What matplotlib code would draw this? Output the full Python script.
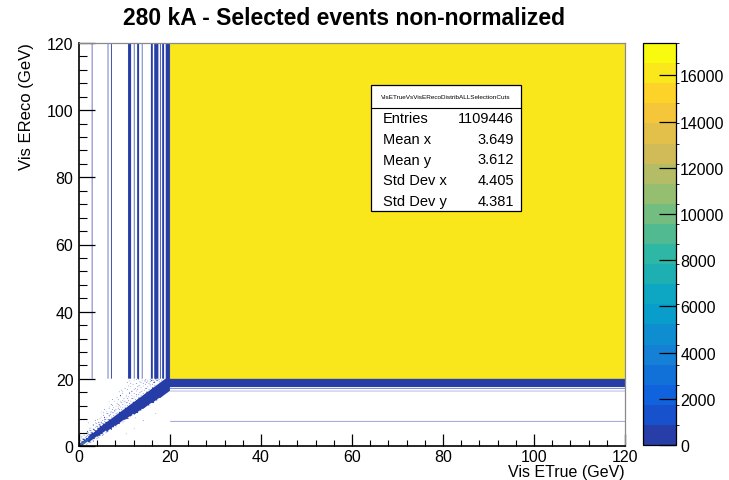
import matplotlib
import matplotlib.pyplot as plt
import numpy as np
from matplotlib.colors import LinearSegmentedColormap, ListedColormap, BoundaryNorm
from matplotlib.ticker import MultipleLocator

matplotlib.use('Agg')
plt.rcParams['font.family'] = ['Liberation Sans', 'DejaVu Sans']

# ---- data ----
title = "280 kA - Selected events non-normalized"
x_label = "Vis ETrue (GeV)"
y_label = "Vis EReco (GeV)"
stats_name = "VisETrueVsVisERecoDistribALLSelectionCuts"
stats_rows = [("Entries", "1109446"), ("Mean x", "3.649"), ("Mean y", "3.612"),
              ("Std Dev x", "4.405"), ("Std Dev y", "4.381")]

z_max = 17400
big_bin = 16200           # content of the (20-120, 20-120) bin

# fine x bins above y = 20 that are filled (lower edges, GeV)
top_strip_x = [2.75, 6.25, 7.0, 10.75, 11.0, 11.25, 12.0, 12.75, 13.0, 13.75,
               15.75, 16.0, 16.5, 16.75, 17.0, 17.25, 17.75, 18.25, 18.5,
               19.0, 19.25, 19.5, 19.75]
top_strip_counts = [2, 3, 4, 6, 8, 5, 3, 4, 5, 4,
                    6, 5, 9, 12, 10, 8, 3, 6, 7,
                    18, 22, 30, 45]

# fine y bins right of x = 20 that are filled (lower edges, GeV)
side_strip_y = [7.25, 16.25, 17.0, 17.5, 17.75, 18.0, 18.25, 18.5,
                18.75, 19.0, 19.25, 19.5, 19.75]
side_strip_counts = [3, 4, 3, 10, 12, 14, 17, 20, 24, 28, 33, 40, 60]

# diagonal core band, per 2 GeV slice of Vis ETrue
band_offset = [0.0, -0.1, -0.2, -0.35, -0.5, -0.65, -0.8, -1.0, -1.2, -1.3]
band_halfw = [0.5, 0.9, 1.2, 1.4, 1.6, 1.8, 2.0, 2.1, 2.2, 2.3]
band_count = [500, 300, 200, 150, 120, 100, 80, 60, 50, 40]

# hot cells near the origin
hot_x = [0.0, 0.25, 0.5, 0.75, 1.0, 1.25, 1.5, 1.75, 2.0, 2.25, 2.5, 2.75]
hot_counts = [2500, 7000, 11000, 10500, 9000, 7500, 6000, 4800, 3800, 3000, 2200, 1500]

# sparse halo around the diagonal (x, y in GeV)
halo_x = [0.4, 0.6, 0.9, 1.1, 1.3, 1.5, 1.7, 1.9, 1.2, 1.8,
          2.1, 2.3, 2.5, 2.7, 2.9, 3.1, 3.3, 3.5, 3.7, 3.9, 2.4, 3.2, 3.8, 2.2, 3.6,
          4.1, 4.3, 4.5, 4.7, 4.9, 5.1, 5.3, 5.5, 5.7, 5.9, 4.4, 5.2, 5.8, 4.8, 5.6,
          6.1, 6.3, 6.5, 6.7, 6.9, 7.1, 7.3, 7.5, 7.7, 7.9, 6.4, 7.0, 7.6, 6.6, 7.4,
          8.1, 8.3, 8.5, 8.7, 8.9, 9.1, 9.3, 9.5, 9.7, 9.9, 8.4, 9.0, 9.6, 8.8, 9.4,
          10.1, 10.3, 10.5, 10.7, 10.9, 11.1, 11.3, 11.5, 11.7, 11.9, 10.4, 10.8, 11.6, 10.6, 11.2,
          12.1, 12.3, 12.5, 12.7, 12.9, 13.1, 13.3, 13.5, 13.7, 13.9, 12.2, 12.8, 13.6, 12.4,
          14.1, 14.3, 14.5, 14.7, 14.9, 15.1, 15.3, 15.5, 15.7, 15.9, 14.0, 14.6, 15.4,
          16.2, 16.5, 16.8, 17.1, 17.5, 16.8, 16.4, 17.2, 17.8, 18.6, 19.2, 19.5]
halo_y = [1.6, 2.4, 2.0, 3.1, 2.6, 3.8, 2.9, 4.4, 0.2, 0.6,
          3.9, 4.6, 3.5, 5.3, 4.1, 6.0, 4.8, 5.5, 4.5, 6.6, 1.0, 1.6, 2.2, 6.8, 7.5,
          5.9, 7.2, 6.3, 8.1, 6.8, 7.6, 9.2, 7.4, 8.6, 7.9, 2.6, 3.1, 3.9, 10.0, 10.8,
          8.4, 9.7, 8.9, 11.0, 9.3, 10.2, 12.1, 9.9, 11.4, 10.6, 4.3, 5.2, 5.6, 13.0, 13.8,
          10.9, 12.6, 11.5, 13.9, 12.2, 14.8, 12.8, 13.6, 15.5, 13.1, 6.4, 7.0, 6.8, 16.0, 16.6,
          13.4, 15.0, 14.1, 16.8, 14.7, 15.9, 17.6, 15.2, 16.4, 18.3, 3.6, 8.2, 9.0, 18.9, 19.4,
          15.6, 17.1, 16.3, 18.5, 16.9, 17.8, 19.2, 17.4, 18.8, 19.6, 5.1, 9.9, 10.6, 8.4,
          17.9, 19.3, 18.4, 19.8, 18.9, 19.5, 18.7, 19.9, 19.1, 19.7, 7.6, 11.8, 12.2,
          19.6, 19.2, 19.9, 19.5, 19.8, 9.6, 12.9, 13.6, 14.3, 15.1, 15.8, 16.2]

# denser halo hugging the band (above and below)
near_x = [1.0, 1.3, 1.6, 1.9, 2.2, 2.5, 2.8, 3.1, 3.4, 3.7, 4.0, 4.3, 4.6, 4.9, 5.2,
          5.5, 5.8, 6.1, 6.4, 6.7, 7.0, 7.3, 7.6, 7.9, 8.2, 8.5, 8.8, 9.1, 9.4, 9.7,
          10.0, 10.3, 10.6, 10.9, 11.2, 11.5, 11.8, 12.1, 12.4, 12.7, 13.0, 13.3, 13.6,
          13.9, 14.2, 14.5, 14.8, 15.1, 15.4, 15.7, 16.0, 16.3, 16.6,
          3.0, 4.2, 5.4, 6.2, 7.2, 8.0, 8.9, 9.8, 10.6, 11.4, 12.3, 13.1, 14.0, 14.9,
          15.8, 16.7, 17.5, 18.3, 19.1, 19.7]
near_y = [1.9, 2.5, 2.3, 3.2, 3.4, 4.1, 3.9, 4.8, 4.6, 5.6, 5.3, 6.4, 6.0, 7.0, 6.6,
          7.9, 7.2, 8.4, 7.8, 9.1, 8.5, 9.9, 9.0, 10.3, 9.7, 11.2, 10.2, 11.6, 10.9, 12.3,
          11.4, 12.8, 12.0, 13.5, 12.6, 14.0, 13.2, 14.6, 13.8, 15.3, 14.4, 15.9, 15.0,
          16.4, 15.6, 17.2, 16.2, 17.6, 16.9, 18.3, 17.4, 18.8, 18.1,
          1.4, 2.3, 3.3, 4.1, 4.8, 5.9, 6.6, 7.3, 8.2, 8.8, 9.6, 10.5, 11.2, 12.1,
          12.9, 13.8, 14.6, 15.5, 16.3, 17.0]

# middle layer of the halo cloud
mid_x = [0.5, 0.8, 1.1, 1.4, 1.7, 2.0, 2.3, 2.6, 2.9, 3.2, 3.5, 3.8, 4.1, 4.4, 4.7,
         5.0, 5.3, 5.6, 5.9, 6.2, 6.5, 6.8, 7.1, 7.4, 7.7, 8.0, 8.3, 8.6, 8.9, 9.2,
         9.5, 9.8, 10.1, 10.4, 10.7, 11.0, 11.3, 11.6, 11.9, 12.2, 12.5, 12.8, 13.1,
         13.4, 13.7, 14.0, 14.3, 14.6, 14.9, 15.2, 15.5, 15.8, 16.1, 16.4, 16.7, 17.0,
         17.3, 17.6, 18.0, 18.4,
         0.7, 1.2, 1.8, 2.4, 3.0, 3.6, 4.2, 4.8, 5.4, 6.0, 6.6, 7.2, 7.8, 8.4, 9.0,
         9.6, 10.2, 10.8, 11.4, 12.0, 12.6, 13.2,
         1.6, 2.6, 3.4, 4.6, 5.0, 6.0, 6.8, 7.8, 8.6, 9.4, 10.2, 11.0, 11.8, 12.6,
         13.4, 14.4, 15.2, 16.0, 17.0, 17.9, 18.8, 19.4]
mid_y = [1.3, 1.9, 2.2, 1.9, 3.5, 2.9, 3.3, 4.7, 3.7, 5.2, 4.3, 5.9, 5.2, 6.8, 5.8,
         7.7, 6.5, 8.3, 7.1, 9.5, 7.9, 10.1, 8.6, 10.9, 9.1, 11.8, 9.9, 12.4, 10.8, 13.1,
         11.4, 14.0, 12.2, 14.6, 12.9, 15.5, 13.3, 16.1, 14.1, 16.8, 14.9, 17.5, 15.3,
         18.2, 16.0, 18.7, 16.6, 19.3, 17.2, 19.0, 17.9, 19.4, 18.4, 19.7, 18.9, 19.3,
         19.6, 19.1, 19.7, 19.4,
         2.8, 3.6, 4.1, 5.2, 6.3, 6.9, 7.9, 8.6, 9.8, 10.4, 11.6, 12.4, 13.3, 14.3, 15.2,
         16.1, 17.2, 17.9, 18.7, 19.5, 19.8, 19.9,
         0.4, 1.2, 2.0, 3.0, 3.6, 4.6, 5.4, 6.2, 6.9, 7.9, 8.6, 9.3, 10.1, 10.9,
         11.5, 12.4, 13.3, 14.1, 14.9, 15.9, 16.6, 17.3]

# ---- ROOT kBird palette, 20 contour levels ----
bird_stops = [0.0, 0.125, 0.25, 0.375, 0.5, 0.625, 0.75, 0.875, 1.0]
bird_r = [0.2082, 0.0592, 0.0780, 0.0232, 0.1802, 0.5301, 0.8186, 0.9956, 0.9764]
bird_g = [0.1664, 0.3599, 0.5041, 0.6419, 0.7178, 0.7492, 0.7328, 0.7862, 0.9832]
bird_b = [0.5293, 0.8684, 0.8385, 0.7914, 0.6425, 0.4662, 0.3499, 0.1968, 0.0539]
bird = LinearSegmentedColormap.from_list(
    'bird', list(zip(bird_stops, zip(bird_r, bird_g, bird_b))), N=255)
n_levels = 20
level_colors = [bird(int((i + 0.99) * 255 / n_levels) / 254) for i in range(n_levels)]
cmap = ListedColormap(level_colors)
cmap.set_bad((1, 1, 1, 0))
levels = np.linspace(0, z_max, n_levels + 1)
norm = BoundaryNorm(levels, cmap.N)

# ---- build the 2D histogram: 0.25 GeV bins up to 20, then one bin 20-120 ----
step = 0.25
n_fine = 80
H = np.zeros((n_fine + 1, n_fine + 1))

H[n_fine, n_fine] = big_bin
for x, c in zip(top_strip_x, top_strip_counts):
    H[n_fine, int(round(x / step))] = c
for y, c in zip(side_strip_y, side_strip_counts):
    H[int(round(y / step)), n_fine] = c

centers = (np.arange(n_fine) + 0.5) * step
for ix, xc in enumerate(centers):
    seg = int(xc // 2)
    lo = xc + band_offset[seg] - band_halfw[seg]
    hi = xc + band_offset[seg] + band_halfw[seg]
    rows = np.where((centers >= lo) & (centers <= hi))[0]
    H[rows, ix] = band_count[seg]

for x, c in zip(hot_x, hot_counts):
    i = int(round(x / step))
    H[i, i] = c

for x, y in zip(halo_x + near_x + mid_x, halo_y + near_y + mid_y):
    ix, iy = int(x / step), int(y / step)
    if H[iy, ix] == 0:
        H[iy, ix] = 2

# expand the wide bins onto a 0.125 GeV display grid so imshow can draw it
grid_idx = np.minimum(np.arange(960) // 2, n_fine)
H_disp = np.ma.masked_equal(H[np.ix_(grid_idx, grid_idx)], 0)

# ---- figure ----
fig = plt.figure(figsize=(7.29, 4.81), dpi=100)
ax = fig.add_axes([79 / 729, 34 / 481, 546 / 729, 403 / 481])
cax = fig.add_axes([643 / 729, 35 / 481, 33 / 729, 402 / 481])

img = ax.imshow(H_disp, origin='lower', extent=(0, 120, 0, 120), aspect='auto',
                cmap=cmap, norm=norm, interpolation='antialiased',
                interpolation_stage='rgba')
ax.set_xlim(0, 120)
ax.set_ylim(0, 120)

ax.xaxis.set_major_locator(MultipleLocator(20))
ax.xaxis.set_minor_locator(MultipleLocator(4))
ax.yaxis.set_major_locator(MultipleLocator(20))
ax.yaxis.set_minor_locator(MultipleLocator(4))
ax.tick_params(axis='x', which='major', direction='in', length=8.6, width=0.9,
               labelsize=11.5, pad=2.5, top=False)
ax.tick_params(axis='x', which='minor', direction='in', length=4.3, width=0.8, top=False)
ax.tick_params(axis='y', which='major', direction='in', length=11.5, width=0.9,
               labelsize=11.5, pad=4, right=False)
ax.tick_params(axis='y', which='minor', direction='in', length=5.8, width=0.8, right=False)
for side in ('left', 'bottom'):
    ax.spines[side].set_linewidth(1.2)
for side in ('top', 'right'):
    ax.spines[side].set_color('#8a8a8a')
    ax.spines[side].set_linewidth(0.9)

fig.text(625 / 729, 1 - 480.5 / 481, x_label, fontsize=11.5, ha='right', va='bottom')
fig.text(26 / 729, 1 - 43 / 481, y_label, fontsize=12, ha='center', va='top',
         rotation=90)

fig.text(0.472, 0.962, title, fontsize=16.5, fontweight='bold', ha='center', va='center')

cb = fig.colorbar(img, cax=cax, ticks=np.arange(0, 17000, 2000))
cb.outline.set_linewidth(0.9)
cax.tick_params(direction='in', length=12, width=0.9, labelsize=11.5, pad=3)
cax.yaxis.set_ticks_position('right')

# stats box
bx0, bx1 = 371 / 729, 521 / 729
by0, by1 = 1 - 212 / 481, 1 - 86 / 481
by_div = 1 - 109 / 481
fig.patches.append(plt.Rectangle((bx0, by0), bx1 - bx0, by1 - by0, transform=fig.transFigure,
                                 facecolor='white', edgecolor='black', linewidth=0.9, zorder=5))
fig.lines.append(plt.Line2D([bx0, bx1], [by_div, by_div], transform=fig.transFigure,
                            color='black', linewidth=0.8, zorder=6))
fig.text((bx0 + bx1) / 2, (by1 + by_div) / 2, stats_name, fontsize=4.6,
         ha='center', va='center', zorder=7)
row_h = (by_div - by0) / len(stats_rows)
for k, (name, val) in enumerate(stats_rows):
    yy = by_div - (k + 0.5) * row_h
    fig.text(383 / 729, yy, name, fontsize=10.5, ha='left', va='center', zorder=7)
    fig.text(514 / 729, yy, val, fontsize=10.5, ha='right', va='center', zorder=7)

fig.savefig('out.png', dpi=100)
